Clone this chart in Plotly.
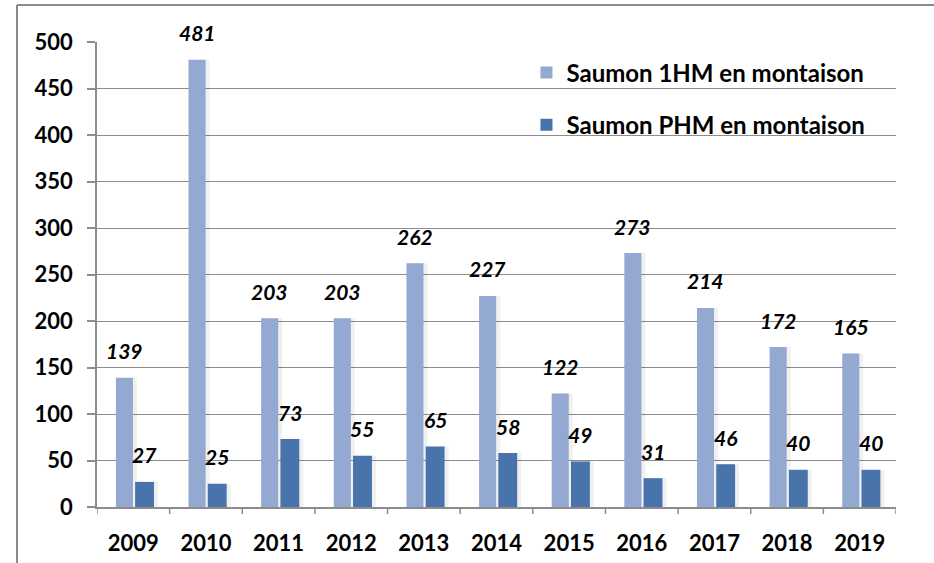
import plotly.graph_objects as go

# Salmon counts per year
years = ["2009", "2010", "2011", "2012", "2013", "2014", "2015", "2016", "2017", "2018", "2019"]
saumon_1hm = [139, 481, 203, 203, 262, 227, 122, 273, 214, 172, 165]
saumon_phm = [27, 25, 73, 55, 65, 58, 49, 31, 46, 40, 40]

name_1hm = "Saumon 1HM en montaison"
name_phm = "Saumon PHM en montaison"

COL_1HM = "#93A9D2"
COL_PHM = "#4873AB"
GRID = "#8C8C8C"
FONT = "Lato"

W, H = 934, 563
ML, MR, MT, MB = 97, 38, 42, 56
plot_w = W - ML - MR
plot_h = H - MT - MB

# bar geometry in category units (left offset, width)
OFF_1HM, WID_1HM = -0.24, 0.235
OFF_PHM, WID_PHM = 0.025, 0.26
SH = 2.0 / plot_w * len(years)  # soft shadow shift, in category units

x_idx = list(range(len(years)))

fig = go.Figure()

# soft shadows behind the bars
for vals, off, wid in [(saumon_1hm, OFF_1HM, WID_1HM), (saumon_phm, OFF_PHM, WID_PHM)]:
    fig.add_trace(go.Bar(
        x=x_idx, y=vals, offset=off + SH, width=wid + SH,
        marker=dict(color="rgba(0,0,0,0.06)", line=dict(width=0)),
        showlegend=False, hoverinfo="skip",
    ))

fig.add_trace(go.Bar(
    x=x_idx, y=saumon_1hm, name=name_1hm, offset=OFF_1HM, width=WID_1HM,
    marker=dict(color=COL_1HM, line=dict(width=0)), legendgroup="a",
))
fig.add_trace(go.Bar(
    x=x_idx, y=saumon_phm, name=name_phm, offset=OFF_PHM, width=WID_PHM,
    marker=dict(color=COL_PHM, line=dict(width=0)), legendgroup="b",
))

# value labels above the bars
for i in x_idx:
    for vals, off, wid in [(saumon_1hm, OFF_1HM, WID_1HM), (saumon_phm, OFF_PHM, WID_PHM)]:
        fig.add_annotation(
            x=i + off + wid / 2, y=vals[i], xref="x", yref="y",
            text=f"<b><i>{vals[i]}</i></b>", showarrow=False,
            yanchor="middle", yshift=27,
            font=dict(family=FONT, size=21, color="#000000"),
        )

# outer frame (left and top edges visible)
x_left = (17 - ML) / plot_w
y_top = 1 + (MT - 5) / plot_h
fig.add_shape(type="line", xref="paper", yref="paper",
              x0=x_left, x1=(W + 10 - ML) / plot_w, y0=y_top, y1=y_top,
              line=dict(color="#8A8A8A", width=2))
fig.add_shape(type="line", xref="paper", yref="paper",
              x0=x_left, x1=x_left, y0=y_top, y1=-(MB + 10) / plot_h,
              line=dict(color="#8A8A8A", width=2))

fig.update_layout(
    width=W, height=H,
    margin=dict(l=ML, r=MR, t=MT, b=MB),
    paper_bgcolor="white", plot_bgcolor="white",
    barmode="overlay",
    font=dict(family=FONT, size=20, color="#000000"),
    legend=dict(
        x=0.5375, y=0.982, xanchor="left", yanchor="top",
        bgcolor="rgba(0,0,0,0)", traceorder="grouped", tracegroupgap=18,
        itemwidth=30,
        font=dict(family=FONT, size=24, color="#000000", weight="bold"),
    ),
    xaxis=dict(
        type="linear", range=[-0.5, len(years) - 0.5],
        tickmode="array", tickvals=x_idx, ticktext=years,
        showgrid=False, zeroline=False, automargin=False,
        showline=True, linecolor=GRID, linewidth=1.5,
        ticks="", ticklabelstandoff=16,
        tickfont=dict(family=FONT, size=22, color="#000000", weight="bold"),
    ),
    yaxis=dict(
        range=[0, 500], tickvals=list(range(0, 501, 50)),
        showgrid=True, gridcolor=GRID, gridwidth=1.2, automargin=False,
        zeroline=False, showline=True, linecolor=GRID, linewidth=1.5,
        ticks="outside", ticklen=8, tickcolor=GRID, tickwidth=1.5,
        ticklabelstandoff=10,
        tickfont=dict(family=FONT, size=22, color="#000000", weight="bold"),
    ),
)

# category boundary ticks under the x axis
for k in range(len(years) + 1):
    fig.add_shape(type="line", xref="x", yref="paper",
                  x0=k - 0.5, x1=k - 0.5, y0=0, y1=-7 / plot_h,
                  line=dict(color=GRID, width=1.5))

fig.write_html("out.html")
